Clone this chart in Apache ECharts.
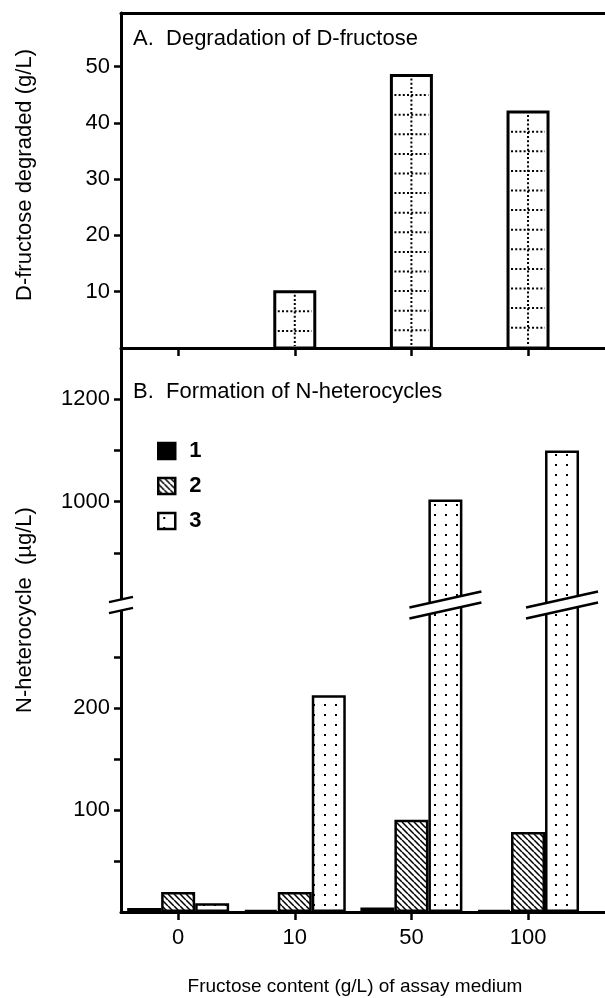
<!DOCTYPE html>
<html>
<head>
<meta charset="utf-8">
<script src="https://cdn.jsdelivr.net/npm/echarts@6/dist/echarts.min.js"></script>
<style>
html,body{margin:0;padding:0;background:#fff}
#main{width:605px;height:998px}
</style>
</head>
<body>
<div id="main"></div>
<script>
// values
var categories = ['0', '10', '50', '100'];
var degraded = [null, 10.0, 48.4, 41.9];        // A: D-fructose degraded (g/L)
var het1 = [4, 2, 4.5, 2];                      // B: N-heterocycle 1 (ug/L)
var het2 = [19.5, 19.5, 90.5, 78.5];            // B: N-heterocycle 2
var het3 = [8.5, 212.5, 1004, 1100];            // B: N-heterocycle 3
var legendNames = ['1', '2', '3'];
var aTicks = [10, 20, 30, 40, 50];
var lowTicks = [50, 100, 150, 200, 250];
var lowLabels = [100, 200];
var highTicks = [900, 1000, 1100, 1200];
var highLabels = [1000, 1200];

var lowMax = 300, highMin = 800, highMax = 1300;
var font = '"Liberation Sans", Arial, sans-serif';

function tile(w, h, draw) {
  var c = document.createElement('canvas');
  c.width = w; c.height = h;
  var ctx = c.getContext('2d');
  ctx.fillStyle = '#fff';
  ctx.fillRect(0, 0, w, h);
  draw(ctx, w, h);
  return c;
}
var hatch = tile(6, 6, function (ctx, w) {
  ctx.strokeStyle = '#000';
  ctx.lineWidth = 1.5;
  ctx.beginPath();
  for (var k = -1; k <= 1; k++) {
    ctx.moveTo(0, k * w);
    ctx.lineTo(w, w + k * w);
  }
  ctx.stroke();
});
var dots = tile(11, 10, function (ctx) {
  ctx.fillStyle = '#000';
  ctx.fillRect(5, 4, 2, 2);
});

var barStyles = [
  { color: '#000', borderColor: '#000', borderWidth: 2.5 },
  { color: { image: hatch, repeat: 'repeat' }, borderColor: '#000', borderWidth: 2.5 },
  { color: { image: dots, repeat: 'repeat' }, borderColor: '#000', borderWidth: 2.5 }
];
var lowData = [het1, het2, het3];

function pairs(arr, keep) {
  return arr.map(function (v, i) { return [i, keep(v) ? v : '-']; });
}

var xBase = { type: 'value', min: -0.49, max: 3.66, splitLine: { show: false } };
var axisLineStyle = { color: '#000', width: 3 };
var tickStyle = { color: '#000', width: 2.5 };
var plain = function (v) { return String(v); };

var chart = echarts.init(document.getElementById('main'));

var series = [{
  type: 'custom',
  name: 'A',
  xAxisIndex: 0,
  yAxisIndex: 0,
  data: pairs(degraded, function (v) { return v != null; }),
  renderItem: function (params, api) {
    var v = api.value(1);
    if (isNaN(v)) return;
    var top = api.coord([api.value(0), v]);
    var base = api.coord([api.value(0), 0]);
    var w = 40, x0 = top[0] - w / 2;
    var dotted = { stroke: '#000', lineWidth: 2, lineDash: [2, 2.2] };
    var kids = [{ type: 'rect', shape: { x: x0, y: top[1], width: w, height: base[1] - top[1] },
      style: { fill: '#fff', stroke: '#000', lineWidth: 3 } }];
    for (var y = top[1] + 19.6; y < base[1] - 5; y += 19.6) {
      kids.push({ type: 'line', shape: { x1: x0 + 3, y1: y, x2: x0 + w - 3, y2: y }, style: dotted });
    }
    kids.push({ type: 'line', shape: { x1: top[0], y1: top[1] + 3, x2: top[0], y2: base[1] - 2 }, style: dotted });
    return { type: 'group', children: kids };
  }
}];
legendNames.forEach(function (name, k) {
  series.push({
    type: 'bar', name: name, xAxisIndex: 3, yAxisIndex: 2,
    barWidth: 34, barGap: '0%',
    itemStyle: barStyles[k],
    data: pairs(lowData[k], function () { return true; })
  });
});
legendNames.forEach(function (name, k) {
  series.push({
    type: 'bar', name: name, xAxisIndex: 2, yAxisIndex: 1,
    barWidth: 34, barGap: '0%',
    itemStyle: barStyles[k],
    data: pairs(lowData[k], function (v) { return k === 2 && v > highMin; })
  });
});

function yAxis(grid, min, max, ticks, labels) {
  return { type: 'value', gridIndex: grid, min: min, max: max, splitLine: { show: false },
    axisLine: { show: true, onZero: false, lineStyle: axisLineStyle },
    axisTick: { show: true, length: 7, customValues: ticks, lineStyle: tickStyle },
    axisLabel: { customValues: labels, margin: 11, fontSize: 22, color: '#000', formatter: plain } };
}

chart.setOption({
  animation: false,
  textStyle: { fontFamily: font, color: '#000' },
  grid: [
    { left: 121, right: 0, top: 13, height: 335 },
    { left: 121, right: 0, top: 348, height: 256 },
    { left: 121, right: 0, top: 606, height: 306 }
  ],
  legend: {
    data: legendNames,
    orient: 'vertical',
    left: 157, top: 440,
    padding: 0,
    icon: 'rect',
    itemWidth: 17, itemHeight: 16, itemGap: 13,
    itemStyle: { borderColor: '#000', borderWidth: 2.5 },
    textStyle: { fontSize: 22, fontWeight: 'bold', lineHeight: 16, padding: [0, 0, 0, 9], color: '#000' }
  },
  xAxis: [
    Object.assign({}, xBase, { gridIndex: 0, position: 'bottom',
      axisLine: { onZero: false, lineStyle: axisLineStyle },
      axisTick: { inside: false, length: 8, customValues: [0, 1, 2, 3], lineStyle: tickStyle },
      axisLabel: { show: false } }),
    Object.assign({}, xBase, { gridIndex: 0, position: 'top',
      axisLine: { onZero: false, lineStyle: axisLineStyle }, axisTick: { show: false }, axisLabel: { show: false } }),
    Object.assign({}, xBase, { gridIndex: 1, show: false }),
    Object.assign({}, xBase, { gridIndex: 2, position: 'bottom',
      axisLine: { onZero: false, lineStyle: axisLineStyle },
      axisTick: { inside: false, length: 8, customValues: [0, 1, 2, 3], lineStyle: tickStyle },
      axisLabel: { customValues: [0, 1, 2, 3], margin: 15, fontSize: 22, color: '#000',
        formatter: function (v) { return categories[Math.round(v)]; } } })
  ],
  yAxis: [
    yAxis(0, 0, 59.5, aTicks, aTicks),
    yAxis(1, highMin, highMax, highTicks, highLabels),
    yAxis(2, 0, lowMax, lowTicks, lowLabels)
  ],
  series: series
});

// break marks: on the axis and across the tall bars
function breakMark(cx, cy, hw) {
  var s = 0.22, g = 5.5;
  var ul = [cx - hw, cy - g + s * hw], ur = [cx + hw, cy - g - s * hw];
  var ll = [cx - hw, cy + g + s * hw], lr = [cx + hw, cy + g - s * hw];
  var line = { stroke: '#000', lineWidth: 2.5 };
  return [
    { type: 'polygon', shape: { points: [ul, ur, lr, ll] }, style: { fill: '#fff' }, z: 50 },
    { type: 'line', shape: { x1: ul[0], y1: ul[1], x2: ur[0], y2: ur[1] }, style: line, z: 51 },
    { type: 'line', shape: { x1: ll[0], y1: ll[1], x2: lr[0], y2: lr[1] }, style: line, z: 51 }
  ];
}
var cut = chart.convertToPixel({ xAxisIndex: 3, yAxisIndex: 2 }, [0, lowMax]);
var breakY = cut[1] - 1;
var axisX = chart.convertToPixel({ xAxisIndex: 3, yAxisIndex: 2 }, [xBase.min, 0])[0];
var marks = breakMark(axisX, breakY, 12);
het3.forEach(function (v, i) {
  if (v > lowMax) {
    var c = chart.convertToPixel({ xAxisIndex: 3, yAxisIndex: 2 }, [i, 0]);
    marks = marks.concat(breakMark(c[0] + 34, breakY, 36));
  }
});

var txt = { fill: '#000', fontFamily: font, fontSize: 22 };
marks.push(
  { type: 'text', left: 133, top: 28, style: Object.assign({ text: 'A.  Degradation of D-fructose' }, txt) },
  { type: 'text', left: 133, top: 381, style: Object.assign({ text: 'B.  Formation of N-heterocycles' }, txt) },
  { type: 'text', x: 25, y: 175, rotation: Math.PI / 2,
    style: Object.assign({ text: 'D-fructose degraded (g/L)', textAlign: 'center', textVerticalAlign: 'middle' }, txt) },
  { type: 'text', x: 25, y: 610, rotation: Math.PI / 2,
    style: Object.assign({ text: 'N-heterocycle  (\u00b5g/L)', textAlign: 'center', textVerticalAlign: 'middle' }, txt) },
  { type: 'text', x: 355, y: 987,
    style: Object.assign({ text: 'Fructose content (g/L) of assay medium', textAlign: 'center', textVerticalAlign: 'middle' }, txt, { fontSize: 19 }) }
);
chart.setOption({ graphic: marks });
</script>
</body>
</html>
